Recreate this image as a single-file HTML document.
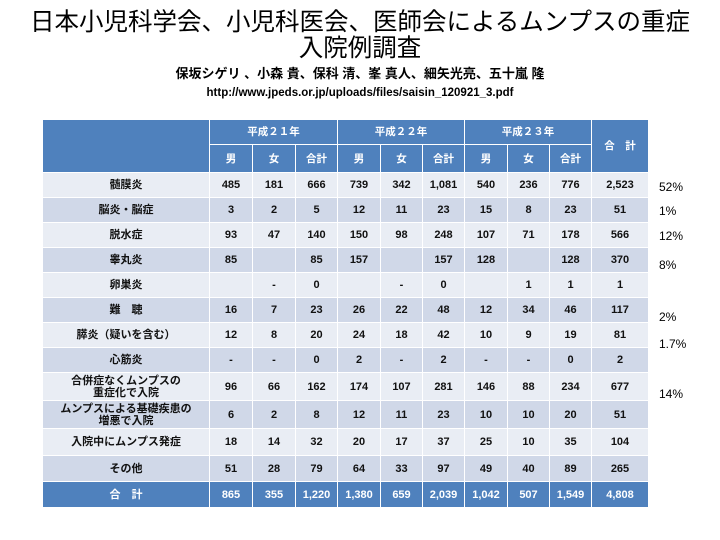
<!DOCTYPE html>
<html><head><meta charset="utf-8"><style>
body{margin:0;width:720px;height:540px;background:#fff;position:relative;overflow:hidden;font-family:"Liberation Sans","Noto Sans CJK JP",sans-serif}
.t{position:absolute;left:0;width:720px;text-align:center;color:#000;white-space:nowrap}
table{position:absolute;left:42px;top:119px;border-collapse:collapse;table-layout:fixed;font-weight:bold;font-size:11px;color:#111}
td{border:1.5px solid #fff;text-align:center;padding:0;line-height:12px}
.h td{background:#4F81BD;color:#fff;font-size:10.5px}
.a td{background:#E9EDF4}.b td{background:#D0D8E8}
.f td{background:#4F81BD;color:#fff;font-size:11px}
.p{position:absolute;left:659px;font-size:12px;color:#000}
</style></head><body>
<div class="t" style="top:10px;font-size:24.5px;line-height:26px">日本小児科学会、小児科医会、医師会によるムンプスの重症</div>
<div class="t" style="top:36px;font-size:24.5px;line-height:26px">入院例調査</div>
<div class="t" style="top:66px;font-size:13px;line-height:15px;font-weight:bold">保坂シゲリ 、小森 貴、保科 清、峯 真人、細矢光亮、五十嵐 隆</div>
<div class="t" style="top:87px;font-size:11.5px;line-height:13px;font-weight:bold">http://www.jpeds.or.jp/uploads/files/saisin_120921_3.pdf</div>
<table>
<colgroup><col style="width:167px"><col style="width:43px"><col style="width:43px"><col style="width:42px"><col style="width:43px"><col style="width:42px"><col style="width:42px"><col style="width:43px"><col style="width:42px"><col style="width:42px"><col style="width:57px"></colgroup>
<tr class="h" style="height:25px"><td rowspan="2"></td><td colspan="3">平成２１年</td><td colspan="3">平成２２年</td><td colspan="3">平成２３年</td><td rowspan="2">合　計</td></tr>
<tr class="h" style="height:28px"><td>男</td><td>女</td><td>合計</td><td>男</td><td>女</td><td>合計</td><td>男</td><td>女</td><td>合計</td></tr>
<tr class="a" style="height:25px"><td>髄膜炎</td><td>485</td><td>181</td><td>666</td><td>739</td><td>342</td><td>1,081</td><td>540</td><td>236</td><td>776</td><td>2,523</td></tr>
<tr class="b" style="height:25px"><td>脳炎・脳症</td><td>3</td><td>2</td><td>5</td><td>12</td><td>11</td><td>23</td><td>15</td><td>8</td><td>23</td><td>51</td></tr>
<tr class="a" style="height:25px"><td>脱水症</td><td>93</td><td>47</td><td>140</td><td>150</td><td>98</td><td>248</td><td>107</td><td>71</td><td>178</td><td>566</td></tr>
<tr class="b" style="height:25px"><td>睾丸炎</td><td>85</td><td></td><td>85</td><td>157</td><td></td><td>157</td><td>128</td><td></td><td>128</td><td>370</td></tr>
<tr class="a" style="height:25px"><td>卵巣炎</td><td></td><td>-</td><td>0</td><td></td><td>-</td><td>0</td><td></td><td>1</td><td>1</td><td>1</td></tr>
<tr class="b" style="height:25px"><td>難　聴</td><td>16</td><td>7</td><td>23</td><td>26</td><td>22</td><td>48</td><td>12</td><td>34</td><td>46</td><td>117</td></tr>
<tr class="a" style="height:25px"><td>膵炎（疑いを含む）</td><td>12</td><td>8</td><td>20</td><td>24</td><td>18</td><td>42</td><td>10</td><td>9</td><td>19</td><td>81</td></tr>
<tr class="b" style="height:25px"><td>心筋炎</td><td>-</td><td>-</td><td>0</td><td>2</td><td>-</td><td>2</td><td>-</td><td>-</td><td>0</td><td>2</td></tr>
<tr class="a" style="height:28px"><td>合併症なくムンプスの<br>重症化で入院</td><td>96</td><td>66</td><td>162</td><td>174</td><td>107</td><td>281</td><td>146</td><td>88</td><td>234</td><td>677</td></tr>
<tr class="b" style="height:28px"><td>ムンプスによる基礎疾患の<br>増悪で入院</td><td>6</td><td>2</td><td>8</td><td>12</td><td>11</td><td>23</td><td>10</td><td>10</td><td>20</td><td>51</td></tr>
<tr class="a" style="height:27px"><td>入院中にムンプス発症</td><td>18</td><td>14</td><td>32</td><td>20</td><td>17</td><td>37</td><td>25</td><td>10</td><td>35</td><td>104</td></tr>
<tr class="b" style="height:26px"><td>その他</td><td>51</td><td>28</td><td>79</td><td>64</td><td>33</td><td>97</td><td>49</td><td>40</td><td>89</td><td>265</td></tr>
<tr class="f" style="height:26px"><td>合　計</td><td>865</td><td>355</td><td>1,220</td><td>1,380</td><td>659</td><td>2,039</td><td>1,042</td><td>507</td><td>1,549</td><td>4,808</td></tr>
</table>
<div class="p" style="top:180px">52%</div>
<div class="p" style="top:204px">1%</div>
<div class="p" style="top:229px">12%</div>
<div class="p" style="top:258px">8%</div>
<div class="p" style="top:310px">2%</div>
<div class="p" style="top:337px">1.7%</div>
<div class="p" style="top:387px">14%</div>
</body></html>
